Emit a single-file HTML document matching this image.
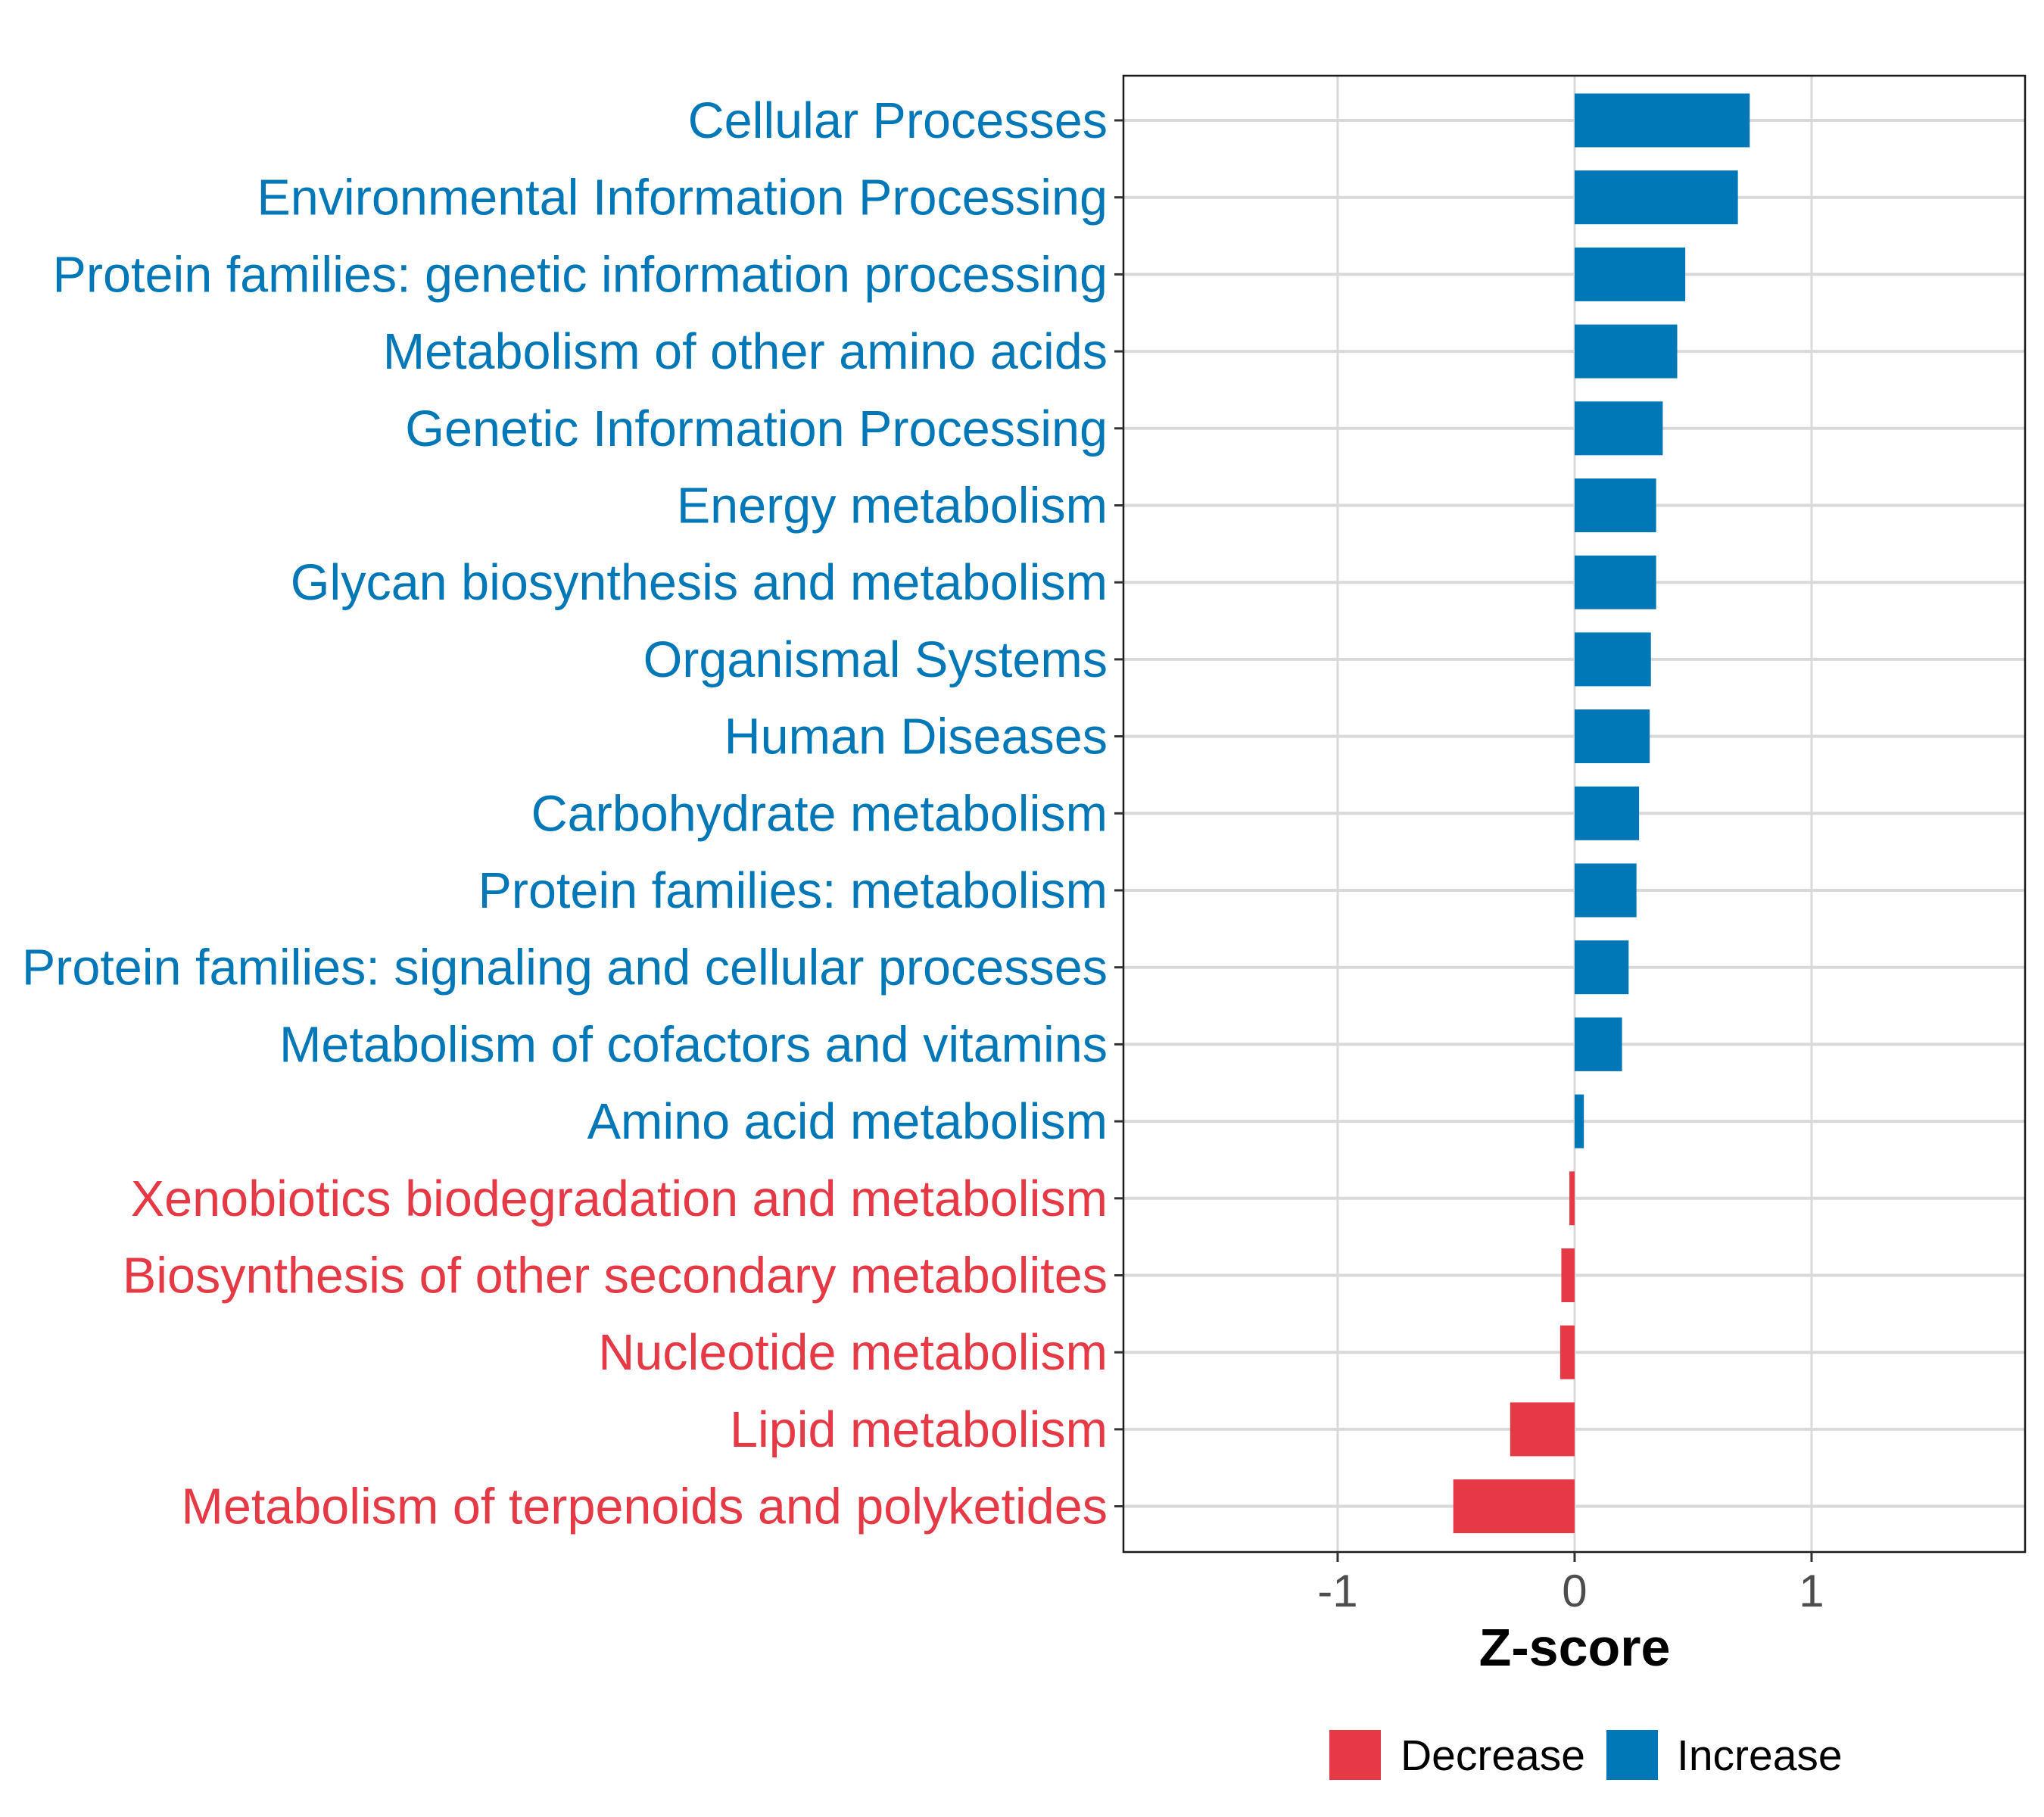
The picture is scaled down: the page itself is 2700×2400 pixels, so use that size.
<!DOCTYPE html>
<html><head><meta charset="utf-8"><style>
html,body{margin:0;padding:0;background:#fff;}
svg{display:block;font-family:"Liberation Sans",Arial,sans-serif;}
</style></head><body>
<svg id="chart" width="2700" height="2400" viewBox="0 0 2700 2400">
<rect width="2700" height="2400" fill="#fff"/>
<g id="grid"></g>
<g id="bars"></g>
<rect x="1484" y="100" width="1191" height="1950" fill="none" stroke="#1a1a1a" stroke-width="2.5"/>
<g id="yaxis"></g>
<g id="xaxis"></g>
<text x="2080" y="2200" text-anchor="middle" font-size="70" font-weight="bold" fill="#000">Z-score</text>
<g>
<rect x="1756" y="2285" width="68" height="66" fill="#E63946"/>
<text x="1850" y="2338" font-size="57" fill="#000">Decrease</text>
<rect x="2122" y="2285" width="68" height="66" fill="#0077B6"/>
<text x="2215" y="2338" font-size="57" fill="#000">Increase</text>
</g>
</svg>
<script>
const categories = ["Cellular Processes","Environmental Information Processing","Protein families: genetic information processing","Metabolism of other amino acids","Genetic Information Processing","Energy metabolism","Glycan biosynthesis and metabolism","Organismal Systems","Human Diseases","Carbohydrate metabolism","Protein families: metabolism","Protein families: signaling and cellular processes","Metabolism of cofactors and vitamins","Amino acid metabolism","Xenobiotics biodegradation and metabolism","Biosynthesis of other secondary metabolites","Nucleotide metabolism","Lipid metabolism","Metabolism of terpenoids and polyketides"];
const zscores = [0.739,0.689,0.467,0.433,0.372,0.344,0.344,0.322,0.317,0.272,0.261,0.228,0.2,0.039,-0.022,-0.056,-0.061,-0.272,-0.512];
const xTicks = [-1,0,1];
const xTickLabels = ["-1","0","1"];

const NS="http://www.w3.org/2000/svg";
const BLUE="#0077B6", RED="#E63946";
const X0=1484, X1=2675, XMIN=-1.904, XMAX=1.901;
const Y0=159, STEP=101.7, BARH=71;
function xs(v){return X0+(v-XMIN)/(XMAX-XMIN)*(X1-X0);}
function ys(i){return Y0+i*STEP;}
function mk(tag,attrs,parent){const e=document.createElementNS(NS,tag);for(const k in attrs)e.setAttribute(k,attrs[k]);parent.appendChild(e);return e;}
const grid=document.getElementById('grid'),bars=document.getElementById('bars'),ya=document.getElementById('yaxis'),xa=document.getElementById('xaxis');
xTicks.forEach((t,i)=>{
  const gl=mk('line',{x1:xs(t),x2:xs(t),y1:100,y2:2050,stroke:'#d9d9d9','stroke-width':3},grid);
  
  
  const tk=mk('line',{x1:xs(t),x2:xs(t),y1:2050,y2:2063,stroke:'#333','stroke-width':3},xa);
  
  
  const tl=mk('text',{x:xs(t),y:2122,'text-anchor':'middle','font-size':60,fill:'#4d4d4d'},xa);
  tl.textContent=xTickLabels[i];
  
  
});
categories.forEach((c,i)=>{
  const y=ys(i), v=zscores[i], col=v>=0?BLUE:RED;
  const hl=mk('line',{x1:X0,x2:X1,y1:y,y2:y,stroke:'#d9d9d9','stroke-width':4},grid);
  
  
  const a=xs(0),b=xs(v);
  const r=mk('rect',{x:Math.min(a,b),y:y-BARH/2,width:Math.max(Math.abs(b-a),1),height:BARH,fill:col},bars);
  
  
  const tk=mk('line',{x1:X0-12,x2:X0,y1:y,y2:y,stroke:'#333','stroke-width':3},ya);
  
  
  const t=mk('text',{x:1463,y:y+23,'text-anchor':'end','font-size':66.5,fill:col},ya);
  t.textContent=c;
  
  
});
</script>
</body></html>
